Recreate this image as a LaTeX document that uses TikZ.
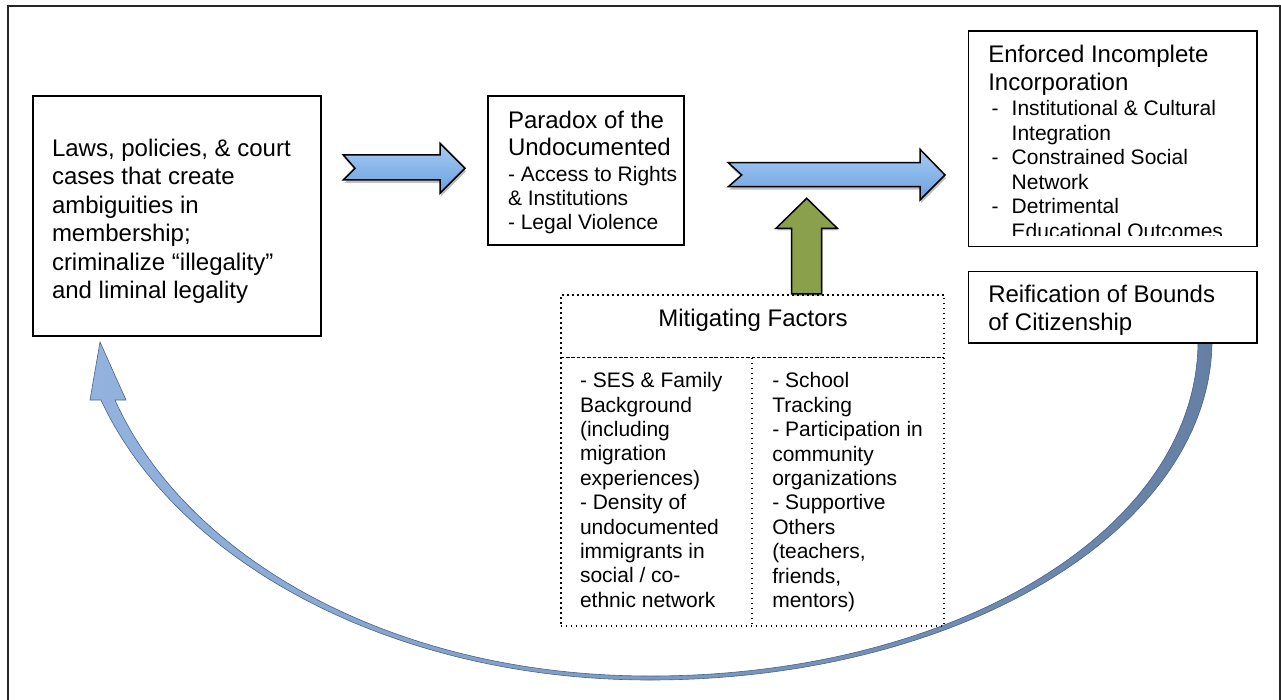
\documentclass[tikz,border=0pt]{standalone}
\usepackage{fontspec}
\setmainfont{Liberation Sans}
\usetikzlibrary{shadows}
\definecolor{arrowtop}{HTML}{A6CBF3}
\definecolor{arrowbot}{HTML}{6AA0DF}
\definecolor{olive}{HTML}{8AA04B}
\definecolor{curveL}{HTML}{93B3DE}
\definecolor{curveM}{HTML}{5A86BE}
\definecolor{curveR}{HTML}{6680A5}
\definecolor{curveedge}{HTML}{4A6489}
\begin{document}
\begin{tikzpicture}[x=1pt,y=-1pt,
  frame/.style={draw=black!85, line width=2pt},
  box/.style={draw=black, line width=1.6pt, inner sep=0pt, outer sep=0pt, anchor=north west},
  big/.style={font=\fontsize{24}{28.4}\selectfont, inner sep=0pt, outer sep=0pt, align=left},
  small/.style={font=\fontsize{21}{24.4}\selectfont, inner sep=0pt, outer sep=0pt, align=left},
  blockarrow/.style={draw=black, line width=1.5pt, line join=miter, top color=arrowtop, bottom color=arrowbot,
    drop shadow={shadow xshift=1pt, shadow yshift=-3pt, opacity=0.25, fill=black}},
  greenarrow/.style={draw=black, line width=1.5pt, line join=miter, fill=olive,
    drop shadow={shadow xshift=1pt, shadow yshift=-2pt, opacity=0.25, fill=black}},
  dotline/.style={draw=black, line width=1.7pt, dash pattern=on 1.6pt off 3.4pt},
  dashline/.style={draw=black, line width=1.4pt, dash pattern=on 3.5pt off 1.8pt},
  curvearrow/.style={left color=curveL, middle color=curveM, right color=curveR, draw=curveedge, line width=0.6pt}
]
\useasboundingbox (0,0) rectangle (1281,700);

% outer frame
\draw[frame] (8,700) -- (8,6) -- (1279.5,6) -- (1279.5,700);

% curved feedback arrow
\path[curvearrow] (1212,343) .. controls (1209,530) and (960,680) .. (650,680)
  .. controls (390,680) and (175,560) .. (101,400)
  -- (90,400) -- (100,342) -- (126,400) -- (115,400)
  .. controls (185,556) and (390,676) .. (650,676)
  .. controls (955,676) and (1196,530) .. (1198,343) -- cycle;

% boxes
\node[box, minimum width=288pt, minimum height=240pt] (lawsbox) at (33,96) {};
\node[box, minimum width=196pt, minimum height=149pt] (paradoxbox) at (488,96) {};
\node[box, minimum width=288.4pt, minimum height=215.7pt] (enforcedbox) at (968.3,31) {};
\node[box, minimum width=288.4pt, minimum height=71.6pt] (reifbox) at (968.3,271.5) {};

% texts
\node[big, anchor=north west] (lawstext) at (52,139.2)
  {Laws, policies, \& court\\cases that create\\ambiguities in\\membership;\\criminalize “illegality”\\and liminal legality};

\node[big, font=\fontsize{24}{27}\selectfont, anchor=north west] (paradoxtitle) at (508,111.2)
  {Paradox of the\\Undocumented};
\node[small, font=\fontsize{21}{24}\selectfont, anchor=north west] (paradoxlist) at (508,165.9)
  {- Access to Rights\\\& Institutions\\- Legal Violence};

\node[big, font=\fontsize{24}{28}\selectfont, anchor=north west] (enforcedtitle) at (988.3,44.7)
  {Enforced Incomplete\\Incorporation};
\begin{scope}
  \clip (968,100) rectangle (1257,235.7);
  \node[small, font=\fontsize{21}{24.5}\selectfont, anchor=north west] (enforcedlist) at (1011.7,100.4)
    {Institutional \& Cultural\\Integration\\Constrained Social\\Network\\Detrimental\\Educational Outcomes};
\end{scope}
\node[small, anchor=base west] (dashA) at (991.7,115.5) {-};
\node[small, anchor=base west] (dashB) at (991.7,164.5) {-};
\node[small, anchor=base west] (dashC) at (991.7,213.5) {-};

\node[big, font=\fontsize{24}{27.3}\selectfont, anchor=north west] (reiftext) at (988.3,285.4)
  {Reification of Bounds\\of Citizenship};

% block arrows
\path[blockarrow] (343.3,155) -- (440,155) -- (440,143.3) -- (465,168.3) -- (440,193.3)
  -- (440,180) -- (343.3,180) -- (355,168.3) -- cycle;
\path[blockarrow] (728.3,162.7) -- (920,162.7) -- (920,149.3) -- (945,175) -- (920,200)
  -- (920,186.7) -- (728.3,186.7) -- (741.7,175) -- cycle;
\path[greenarrow] (791.7,294) -- (791.7,228.3) -- (776,228.3) -- (806.7,198.3) -- (837.3,228.3)
  -- (821.7,228.3) -- (821.7,294) -- cycle;

% mitigating factors box
\node[dotline, inner sep=0pt, outer sep=0pt, anchor=north west, minimum width=383.6pt, minimum height=330.7pt] (mitbox) at (560.7,295) {};
\coordinate (sepL) at (560.7,357.7);
\coordinate (sepR) at (944.3,357.7);
\coordinate (divT) at (752.3,357.7);
\coordinate (divB) at (752.3,625.7);
\draw[dashline] (sepL) -- (sepR);
\draw[dotline] (divT) -- (divB);

\node[big, anchor=base] (mithead) at (753,326.7) {Mitigating Factors};
\node[small, anchor=north west] (mitleft) at (580,372.4)
  {- SES \& Family\\Background\\(including\\migration\\experiences)\\- Density of\\undocumented\\immigrants in\\social / co-\\ethnic network};
\node[small, anchor=north west] (mitright) at (772.3,372.6)
  {- School\\Tracking\\- Participation in\\community\\organizations\\- Supportive\\Others\\(teachers,\\friends,\\mentors)};
\end{tikzpicture}
\end{document}
